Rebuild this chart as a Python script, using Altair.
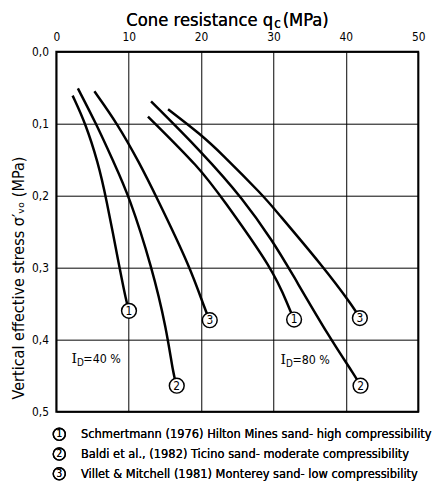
import altair as alt
import pandas as pd

FONT = "DejaVu Sans Condensed, DejaVu Sans, Liberation Sans"

# ---- axis ticks ----
x_ticks = [0, 10, 20, 30, 40, 50]
y_ticks = [0.0, 0.1, 0.2, 0.3, 0.4, 0.5]

# ---- curves (q_c in MPa, sigma'_vo in MPa) ----
curve_keys = ["40-1", "40-2", "40-3", "80-1", "80-2", "80-3"]
curve_nums = ["1", "2", "3", "1", "2", "3"]

qc_40_1 = [2.25, 4.05, 5.76, 6.83, 8.73, 9.65, 10.04]
sv_40_1 = [0.061, 0.100, 0.154, 0.200, 0.300, 0.346, 0.360]

qc_40_2 = [2.98, 5.51, 7.95, 10.04, 13.23, 15.22, 16.15, 16.64]
sv_40_2 = [0.051, 0.100, 0.154, 0.200, 0.300, 0.385, 0.448, 0.464]

qc_40_3 = [5.26, 8.44, 11.46, 13.76, 18.54, 20.53, 21.2]
sv_40_3 = [0.055, 0.100, 0.154, 0.200, 0.300, 0.358, 0.373]

qc_80_1 = [12.66, 19.96, 22.8, 30.0, 32.1, 32.85]
sv_80_1 = [0.090, 0.163, 0.202, 0.303, 0.355, 0.372]

qc_80_2 = [13.09, 19.96, 25.87, 30.0, 32.1, 37.9, 41.26, 42.03]
sv_80_2 = [0.069, 0.138, 0.205, 0.265, 0.300, 0.400, 0.450, 0.464]

qc_80_3 = [15.44, 19.96, 22.67, 28.67, 30.0, 37.0, 40.99, 41.94]
sv_80_3 = [0.080, 0.115, 0.140, 0.201, 0.217, 0.300, 0.354, 0.370]

# ---- annotations ----
id_texts = ["\u00a0=40 %", "=80 %"]
id_qc = [2.1, 30.98]
id_sv = [0.427, 0.428]

# ---- legend ----
legend_nums = ["1", "2", "3"]
legend_texts = [
    "Schmertmann (1976) Hilton Mines sand- high compressibility",
    "Baldi et al., (1982) Ticino sand- moderate  compressibility",
    "Villet & Mitchell (1981) Monterey sand- low compressibility",
]

all_qc = [qc_40_1, qc_40_2, qc_40_3, qc_80_1, qc_80_2, qc_80_3]
all_sv = [sv_40_1, sv_40_2, sv_40_3, sv_80_1, sv_80_2, sv_80_3]

rows, ends = [], []
for key, num, qs, ss in zip(curve_keys, curve_nums, all_qc, all_sv):
    for i, (q, s) in enumerate(zip(qs, ss)):
        rows.append({"curve": key, "qc": q, "sv": s, "order": i})
    ends.append({"curve": key, "qc": qs[-1], "sv": ss[-1], "label": num})
df_curves = pd.DataFrame(rows)
df_ends = pd.DataFrame(ends)
df_id = pd.DataFrame({"qc": id_qc, "sv": id_sv, "rest": id_texts})

W, H = 367, 365

xenc = alt.X("qc:Q", scale=alt.Scale(domain=[0, 50], nice=False),
             axis=alt.Axis(orient="top", values=x_ticks, title=None,
                           grid=True, ticks=False, domain=False,
                           labelPadding=8, labelFontSize=12,
                           labelFlush=False))
yenc = alt.Y("sv:Q", scale=alt.Scale(domain=[0, 0.5], reverse=True, nice=False),
             axis=alt.Axis(values=y_ticks, grid=True, ticks=False, domain=False,
                           labelPadding=8, labelFontSize=12, labelFlush=False,
                           labelExpr="replace(format(datum.value, '.1f'), '.', ',')",
                           title="Vertical effective stress σ′ᵥₒ (MPa)",
                           titleX=-38, titleY=229, titleAngle=270,
                           titleAlign="center", titleBaseline="middle",
                           titleFontSize=16.3, titleFontWeight="normal"))

lines = alt.Chart(df_curves).mark_line(
    color="black", strokeWidth=2.5, interpolate="basis"
).encode(x=xenc, y=yenc, detail="curve:N", order="order:Q")

circles = alt.Chart(df_ends).mark_circle(
    size=225, color="white", opacity=1, stroke="black", strokeWidth=1.5
).encode(x="qc:Q", y="sv:Q")

nums = alt.Chart(df_ends).mark_text(
    font=FONT, fontSize=12, color="black", baseline="middle", align="center"
).encode(x="qc:Q", y="sv:Q", text="label:N")

id_i = alt.Chart(df_id).mark_text(
    font="DejaVu Serif", fontSize=14, color="black", align="left", baseline="middle"
).encode(x="qc:Q", y="sv:Q", text=alt.value("I"))
id_d = alt.Chart(df_id).mark_text(
    font=FONT, fontSize=10, color="black", align="left", baseline="middle", dx=5.5, dy=4
).encode(x="qc:Q", y="sv:Q", text=alt.value("D"))
id_rest = alt.Chart(df_id).mark_text(
    font=FONT, fontSize=12.5, color="black", align="left", baseline="middle", dx=12
).encode(x="qc:Q", y="sv:Q", text="rest:N")

# top axis title with subscript c
t1 = alt.Chart(df_id).mark_text(font=FONT, fontSize=18.5, align="right",
                                baseline="alphabetic", color="black",
                                x=220, y=-26).encode(text=alt.value("Cone resistance q"))
t2 = alt.Chart(df_id).mark_text(font=FONT, fontSize=13.5, align="left",
                                baseline="alphabetic", color="black",
                                x=221, y=-24.5).encode(text=alt.value("c"))
t3 = alt.Chart(df_id).mark_text(font=FONT, fontSize=18.5, align="left",
                                baseline="alphabetic", color="black",
                                x=229.5, y=-26).encode(text=alt.value("(MPa)"))

legend_layers = []
row_y0 = H + 23
row_dy = 20
for i, (n, t) in enumerate(zip(legend_nums, legend_texts)):
    yy = row_y0 + i * row_dy
    legend_layers.append(
        alt.Chart(df_id).mark_point(shape="circle", size=150, filled=False,
                                    stroke="black", strokeWidth=1.4, opacity=1,
                                    x=3, y=yy).encode(shape=alt.value("circle")))
    legend_layers.append(
        alt.Chart(df_id).mark_text(font=FONT, fontSize=10, align="center",
                                   baseline="middle", color="black",
                                   x=3, y=yy).encode(text=alt.value(n)))
    legend_layers.append(
        alt.Chart(df_id).mark_text(font=FONT, fontSize=12.9, align="left",
                                   baseline="middle", color="black",
                                   x=25, y=yy).encode(text=alt.value(t)))

chart = alt.layer(
    lines, circles, nums, id_i, id_d, id_rest, t1, t2, t3, *legend_layers
).properties(
    width=W, height=H,
    autosize=alt.AutoSizeParams(type="none"),
    padding={"left": 49, "top": 41, "right": 16, "bottom": 68},
).configure_view(
    stroke="black", strokeWidth=2
).configure_axis(
    gridColor="black", gridOpacity=1, gridWidth=1,
    labelFont=FONT, labelColor="black", titleFont=FONT, titleColor="black"
)

chart.save("out.html", embed_options={"renderer": "svg", "actions": False})
